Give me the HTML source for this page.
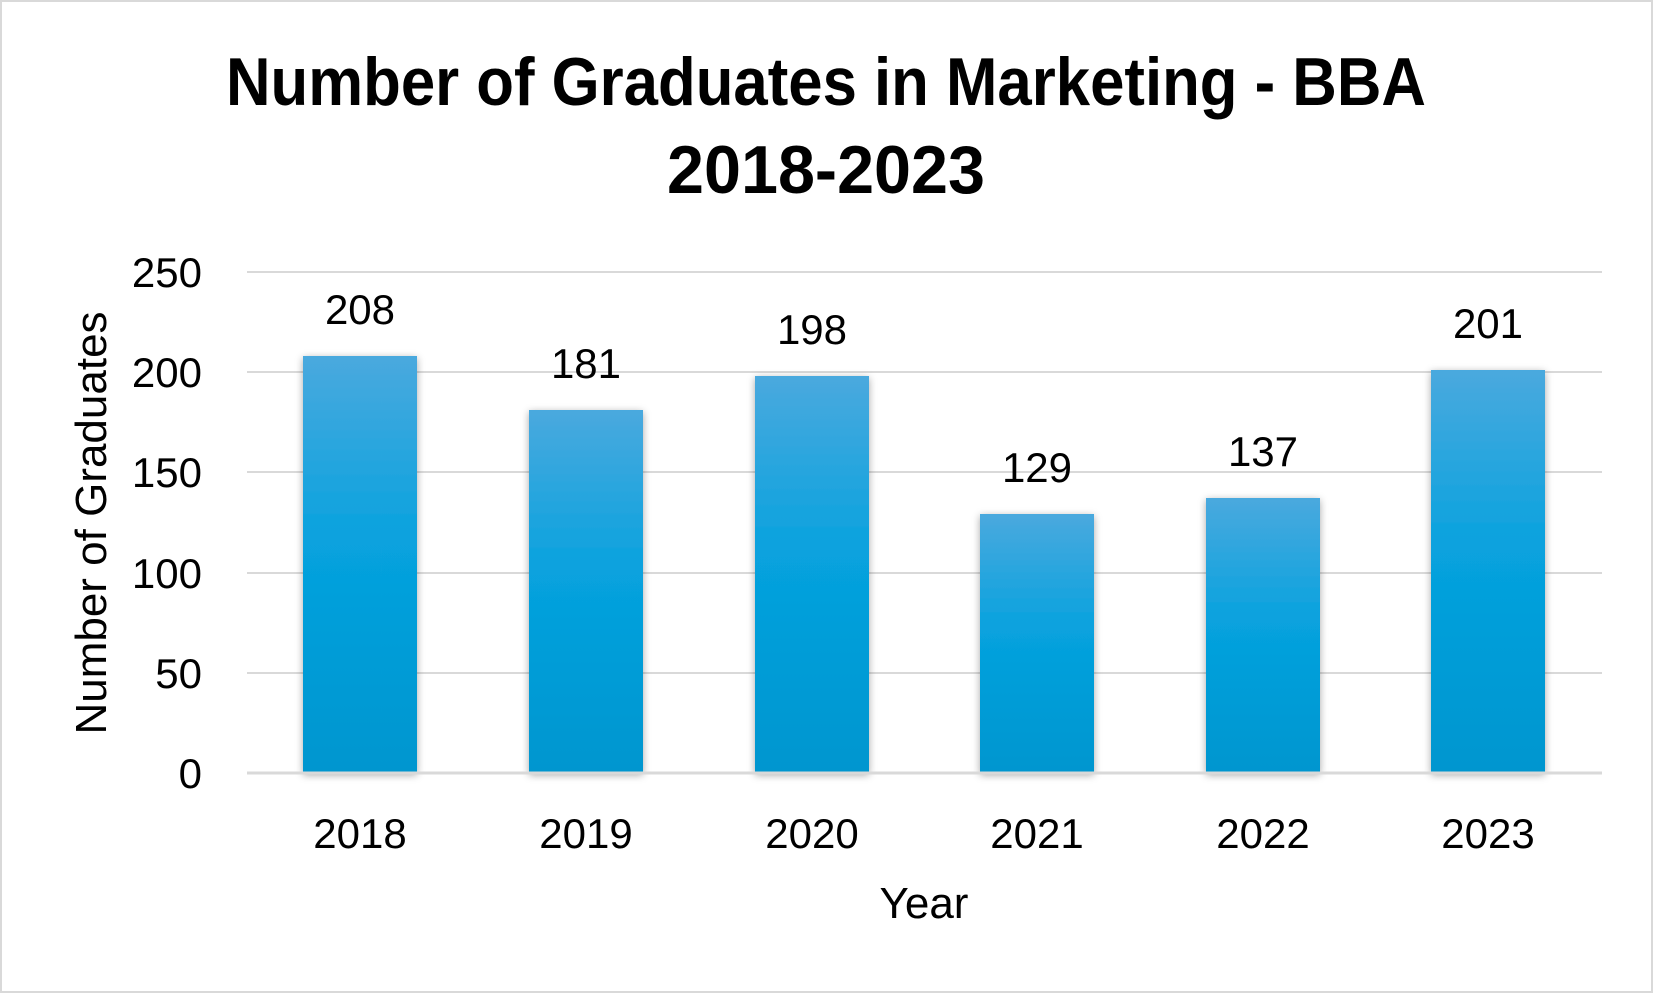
<!DOCTYPE html>
<html><head><meta charset="utf-8"><style>html,body{margin:0;padding:0;background:#fff}</style></head>
<body>
<svg width="1653" height="993" viewBox="0 0 1653 993" xmlns="http://www.w3.org/2000/svg" font-family="Liberation Sans, sans-serif">
<defs>
<linearGradient id="g" x1="0" y1="0" x2="0" y2="1">
<stop offset="0" stop-color="#4aa9de"/><stop offset="0.45" stop-color="#07a2de"/><stop offset="1" stop-color="#0096cf"/>
</linearGradient>
<filter id="s" x="-20%" y="-10%" width="140%" height="120%"><feDropShadow dx="0" dy="2" stdDeviation="4" flood-color="#000" flood-opacity="0.35"/></filter>
</defs>
<rect x="1" y="1" width="1651" height="991" fill="#fff" stroke="#d9d9d9" stroke-width="2"/>
<text x="826" y="105" text-anchor="middle" font-weight="bold" font-size="68" textLength="1200" lengthAdjust="spacingAndGlyphs">Number of Graduates in Marketing - BBA</text>
<text x="826" y="193" text-anchor="middle" font-weight="bold" font-size="68" textLength="318" lengthAdjust="spacingAndGlyphs">2018-2023</text>
<g stroke="#d9d9d9" stroke-width="2">
<line x1="247" y1="272" x2="1602" y2="272"/><line x1="247" y1="372" x2="1602" y2="372"/><line x1="247" y1="472" x2="1602" y2="472"/><line x1="247" y1="573" x2="1602" y2="573"/><line x1="247" y1="673" x2="1602" y2="673"/>
</g>
<g fill="url(#g)" filter="url(#s)">
<rect x="303" y="356" width="114" height="417"/>
<rect x="529" y="410" width="114" height="363"/>
<rect x="755" y="376" width="114" height="397"/>
<rect x="980" y="514" width="114" height="259"/>
<rect x="1206" y="498" width="114" height="275"/>
<rect x="1431" y="370" width="114" height="403"/>
</g>
<line x1="247" y1="773" x2="1602" y2="773" stroke="#d9d9d9" stroke-width="3"/>
<g font-size="42" text-anchor="end" fill="#000">
<text x="202" y="287">250</text><text x="202" y="387">200</text><text x="202" y="487">150</text><text x="202" y="588">100</text><text x="202" y="688">50</text><text x="202" y="788">0</text>
</g>
<g font-size="42" text-anchor="middle" fill="#000">
<text x="360" y="324">208</text><text x="586" y="378">181</text><text x="812" y="344">198</text><text x="1037" y="482">129</text><text x="1263" y="466">137</text><text x="1488" y="338">201</text>
<text x="360" y="848">2018</text><text x="586" y="848">2019</text><text x="812" y="848">2020</text><text x="1037" y="848">2021</text><text x="1263" y="848">2022</text><text x="1488" y="848">2023</text>
<text x="924" y="918" font-size="44">Year</text>
<text transform="translate(106,523) rotate(-90)" font-size="44">Number of Graduates</text>
</g>
</svg>
</body></html>
